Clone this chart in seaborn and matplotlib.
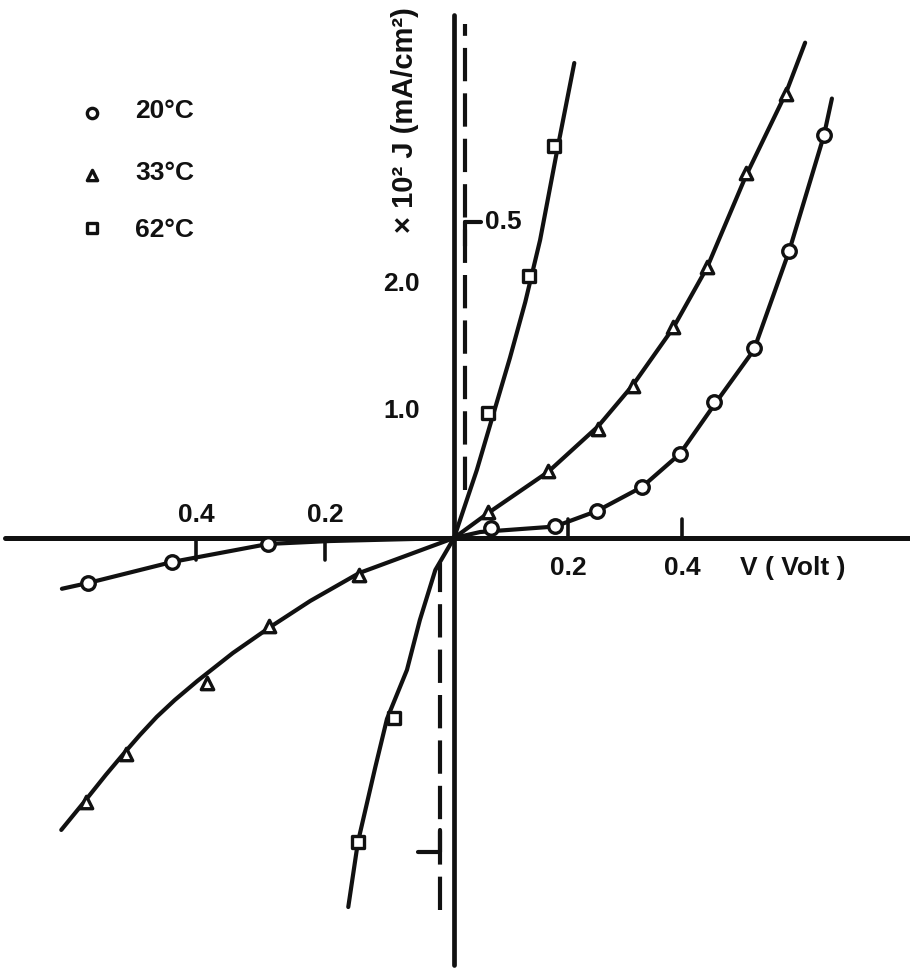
import numpy as np
import pandas as pd
import matplotlib
matplotlib.use("Agg")
import matplotlib.pyplot as plt
import seaborn as sns

# Measured points: V in volts, J in units of 1e2 mA/cm^2
v_20 = [-0.567, -0.437, -0.288, 0.065, 0.177, 0.251, 0.330, 0.396, 0.456, 0.526, 0.588, 0.649]
j_20 = [-0.354, -0.189, -0.047, 0.079, 0.094, 0.213, 0.402, 0.661, 1.071, 1.496, 2.260, 3.170]

v_33 = [-0.571, -0.509, -0.383, -0.287, -0.147, 0.060, 0.165, 0.253, 0.314, 0.384, 0.444, 0.512, 0.582]
j_33 = [-2.079, -1.701, -1.142, -0.693, -0.291, 0.205, 0.528, 0.858, 1.197, 1.661, 2.134, 2.874, 3.496]

v_62 = [-0.149, -0.093, 0.060, 0.132, 0.175]
j_62 = [-2.394, -1.417, 0.984, 2.063, 3.087]

# Hand-drawn fitted curves through the origin
fit_v_20 = [-0.608, -0.567, -0.437, -0.288, -0.192, 0.0, 0.046, 0.177, 0.251, 0.330, 0.396, 0.456, 0.526, 0.588, 0.649, 0.663]
fit_j_20 = [-0.400, -0.354, -0.189, -0.047, -0.024, 0.0, 0.047, 0.090, 0.213, 0.402, 0.661, 1.045, 1.480, 2.260, 3.170, 3.460]

fit_v_33 = [-0.609, -0.571, -0.540, -0.510, -0.487, -0.461, -0.433, -0.398, -0.343, -0.285, -0.223, -0.147,
            0.0, 0.060, 0.165, 0.253, 0.314, 0.384, 0.444, 0.512, 0.582, 0.616]
fit_j_33 = [-2.299, -2.063, -1.866, -1.685, -1.551, -1.409, -1.276, -1.126, -0.906, -0.701, -0.496, -0.276,
            0.0, 0.197, 0.520, 0.880, 1.205, 1.650, 2.130, 2.850, 3.500, 3.900]

fit_v_62 = [-0.164, -0.149, -0.122, -0.104, -0.073, -0.053, -0.029, 0.0, 0.040, 0.068, 0.098, 0.125, 0.151, 0.181, 0.211]
fit_j_62 = [-2.906, -2.394, -1.803, -1.425, -1.039, -0.646, -0.252, 0.0, 0.535, 0.961, 1.417, 1.858, 2.346, 3.055, 3.740]

labels = ["20°C", "33°C", "62°C"]
markers = ["o", "^", "s"]

x_ticks_neg = [-0.4, -0.2]
x_ticks_pos = [0.2, 0.4]
y_ticks = [1.0, 2.0]

# The negative-voltage half of the axis is drawn on a wider scale
NEG_STRETCH = 645 / 570


def fwd(v):
    v = np.asarray(v, dtype=float)
    return np.where(v < 0, v * NEG_STRETCH, v)


def inv(t):
    t = np.asarray(t, dtype=float)
    return np.where(t < 0, t / NEG_STRETCH, t)


sns.set_style("white")
plt.rcParams["font.family"] = ["Liberation Sans", "DejaVu Sans"]
plt.rcParams["font.weight"] = "bold"

fig = plt.figure(figsize=(9.1, 9.69), dpi=100)
ax = fig.add_axes([0, 0, 1, 1])
ax.set_xscale("function", functions=(fwd, inv))
ax.set_xlim(-0.704, 0.800)
ax.set_ylim(-3.394, 4.236)
ax.axis("off")

INK = "#111111"
FS = 19

# Coordinate axes
ax.plot([0, 0], [-3.36, 4.12], color=INK, lw=3.4, solid_capstyle="round", zorder=2)
ax.plot([-0.696, 0.8], [0, 0], color=INK, lw=3.6, zorder=2)

# Dashed secondary current axis with +/-0.5 marks
dash = (0, (8.0, 2.9))
ax.plot([0.019, 0.019], [0.38, 4.05], color=INK, lw=3.0, ls=dash, zorder=2)
ax.plot([-0.0225, -0.0225], [-2.93, -0.20], color=INK, lw=3.0, ls=dash, zorder=2)
ax.plot([0.019, 0.047], [2.488, 2.488], color=INK, lw=3.0, solid_capstyle="round")
ax.plot([0.019, 0.019], [2.30, 2.488], color=INK, lw=3.0, solid_capstyle="round")
ax.text(0.054, 2.49, "0.5", fontsize=FS, va="center", ha="left", color=INK)
ax.plot([-0.0558, -0.0225], [-2.472, -2.472], color=INK, lw=3.0, solid_capstyle="round")
ax.plot([-0.0225, -0.0225], [-2.30, -2.472], color=INK, lw=3.0, solid_capstyle="round")

# Tick marks and labels
for t in x_ticks_neg:
    ax.plot([t, t], [0, -0.17], color=INK, lw=2.6)
    ax.text(t, 0.18, f"{abs(t):.1f}", fontsize=FS, ha="center", va="center", color=INK)
for t in x_ticks_pos:
    ax.plot([t, t], [0, 0.15], color=INK, lw=2.6)
    ax.text(t, -0.236, f"{t:.1f}", fontsize=FS, ha="center", va="center", color=INK)
for t in y_ticks:
    ax.text(-0.0527, t, f"{t:.1f}", fontsize=FS, ha="right", va="center", color=INK)

ax.text(0.502, -0.236, "V ( Volt )", fontsize=FS, ha="left", va="center", color=INK)
ax.text(-0.076, 2.40, "× 10² J (mA/cm²)", fontsize=21, rotation=90,
        ha="center", va="bottom", color=INK)

# Fitted curves
fits = [(fit_v_20, fit_j_20), (fit_v_33, fit_j_33), (fit_v_62, fit_j_62)]
for (fv, fj), lab in zip(fits, labels):
    df = pd.DataFrame({"V": fv, "J": fj})
    sns.lineplot(data=df, x="V", y="J", sort=False, estimator=None,
                 color=INK, lw=3.0, ax=ax, zorder=3)

# Data points
pts = [(v_20, j_20), (v_33, j_33), (v_62, j_62)]
sizes = [95, 80, 80]
for (pv, pj), m, s in zip(pts, markers, sizes):
    df = pd.DataFrame({"V": pv, "J": pj})
    sns.scatterplot(data=df, x="V", y="J", marker=m, s=s, color="white",
                    edgecolor=INK, linewidth=2.4, ax=ax, zorder=4, legend=False)

# Key
key_y_marker = [3.346, 2.858, 2.441]
key_y_text = [3.307, 2.819, 2.370]
for m, lab, ym, yt in zip(markers, labels, key_y_marker, key_y_text):
    ax.scatter([-0.561], [ym], marker=m, s=55, color="white", edgecolor=INK,
               linewidth=2.4, zorder=4)
    ax.text(-0.4946, yt, lab, fontsize=FS, ha="left", va="baseline", color=INK)

fig.savefig("out.png", dpi=100)
